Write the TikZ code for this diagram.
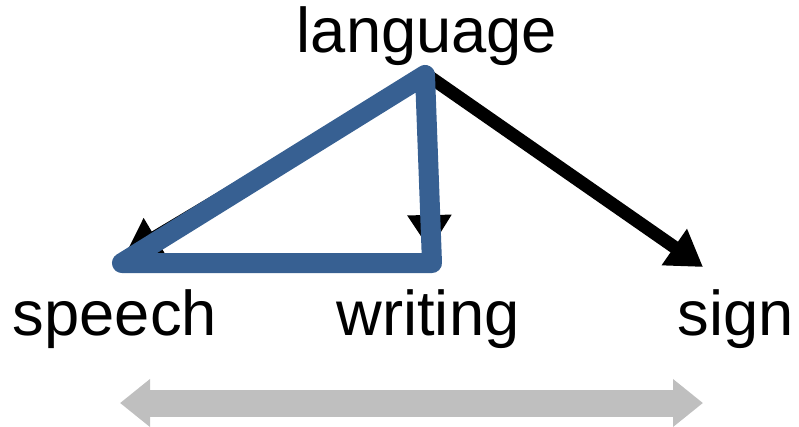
\documentclass[tikz,border=0pt]{standalone}
\usepackage{fontspec}
\setmainfont{Liberation Sans}
\usetikzlibrary{arrows.meta}
\definecolor{bleu}{RGB}{55,96,146}
\definecolor{grisclair}{RGB}{191,191,191}
\tikzset{
  mot/.style={anchor=base,inner sep=0pt,font=\fontsize{18}{21}\selectfont},
  fleche/.style={line width=1.3mm,-{Triangle[length=3.5mm,width=4.2mm]}}
}
\begin{document}
\begin{tikzpicture}[scale=1] % 1 cm = 100 px
\useasboundingbox (0,0) rectangle (7.99,4.26);
% les mots
\node[mot] (langue) at (4.27,3.74) {language};
\node[mot] (parole) at (1.15,0.91) {speech};
\node[mot] (ecrit) at (4.28,0.91) {writing};
\node[mot] (signe) at (7.36,0.91) {sign};
% points de depart et d'arrivee des fleches
\coordinate (haut) at (4.27,3.51);
\coordinate (versparole) at (1.25,1.71);
\coordinate (versecrit) at (4.30,1.76);
\coordinate (verssigne) at (7.03,1.59);
\draw[fleche] (haut)--(versparole);
\draw[fleche] (haut)--(versecrit);
\draw[fleche] (haut)--(verssigne);
% le triangle bleu
\coordinate (b1) at (4.25,3.51);
\coordinate (b2) at (1.22,1.63);
\coordinate (b3) at (4.32,1.63);
\draw[color=bleu,line width=2mm,line join=round,line cap=round] (b1)--(b2)--(b3)--cycle;
% la double fleche grise
\coordinate (g1) at (1.20,0.23);
\coordinate (g2) at (7.03,0.23);
\draw[color=grisclair,line width=2.7mm,{Triangle[length=3mm,width=4.6mm]}-{Triangle[length=3mm,width=4.6mm]}] (g1)--(g2);
\end{tikzpicture}
\end{document}
